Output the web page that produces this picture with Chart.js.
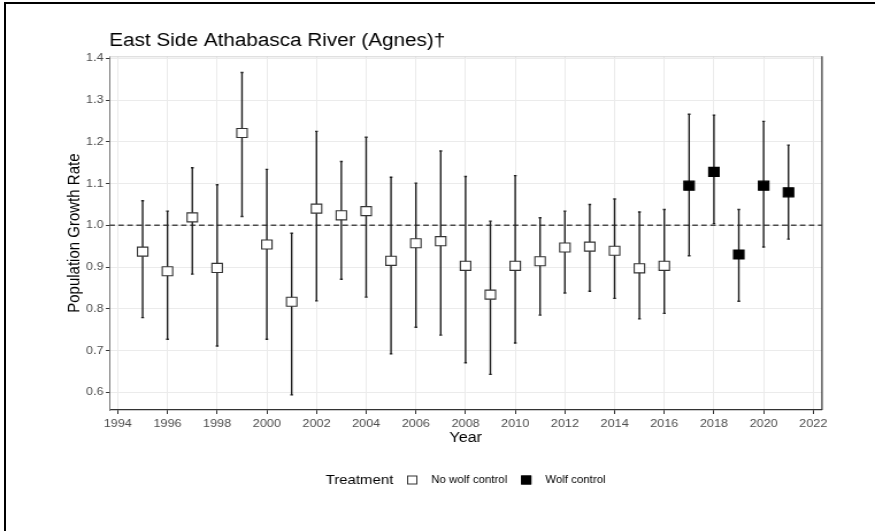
<!DOCTYPE html>
<html>
<head>
<meta charset="utf-8">
<script src="https://cdn.jsdelivr.net/npm/chart.js@4"></script>
<style>
  html, body { margin: 0; padding: 0; background: #fff; overflow: hidden; }
  #frame { position: absolute; left: 4px; top: 2px; width: 900px; height: 560px;
           border-top: 2px solid #000; border-left: 2px solid #000; }
  /* the plot is drawn a little narrow and widened to the page */
  #wrap { position: absolute; left: 0; top: 0; width: 761px; height: 531px;
          transform: scaleX(1.1498); transform-origin: 0 0; }
</style>
</head>
<body>
<div id="frame"></div>
<div id="wrap"><canvas id="growth" width="761" height="531"></canvas></div>
<script>
// lambda estimates with confidence limits, by year
const noWolfYears = [1995, 1996, 1997, 1998, 1999, 2000, 2001, 2002, 2003, 2004, 2005,
                     2006, 2007, 2008, 2009, 2010, 2011, 2012, 2013, 2014, 2015, 2016];
const noWolfRate  = [0.937, 0.890, 1.019, 0.898, 1.221, 0.954, 0.817, 1.040, 1.024, 1.034, 0.915,
                     0.957, 0.962, 0.903, 0.834, 0.903, 0.914, 0.947, 0.949, 0.939, 0.897, 0.903];
const noWolfLower = [0.779, 0.727, 0.883, 0.711, 1.021, 0.727, 0.594, 0.819, 0.871, 0.828, 0.692,
                     0.756, 0.737, 0.671, 0.643, 0.718, 0.785, 0.838, 0.842, 0.825, 0.776, 0.789];
const noWolfUpper = [1.059, 1.034, 1.138, 1.097, 1.366, 1.134, 0.981, 1.225, 1.153, 1.211, 1.115,
                     1.101, 1.178, 1.117, 1.010, 1.119, 1.018, 1.034, 1.050, 1.063, 1.032, 1.038];

const wolfYears = [2017, 2018, 2019, 2020, 2021];
const wolfRate  = [1.095, 1.128, 0.930, 1.095, 1.079];
const wolfLower = [0.927, 1.004, 0.818, 0.948, 0.967];
const wolfUpper = [1.266, 1.264, 1.038, 1.249, 1.192];

const treatmentLabels = ['No wolf control', 'Wolf control'];
const stableRate = 1.0;

const FONT = '"Liberation Sans", Arial, Helvetica, sans-serif';

function toPoints(years, rate, lower, upper) {
  return years.map((yr, i) => ({ x: yr, y: rate[i], lo: lower[i], hi: upper[i] }));
}

// dashed line at lambda = 1, then the interval bars under the squares
const intervals = {
  id: 'intervals',
  beforeDatasetsDraw(chart) {
    const { ctx, chartArea, scales: { x, y } } = chart;
    ctx.save();

    const yRef = y.getPixelForValue(stableRate);
    ctx.strokeStyle = '#4a4a4a';
    ctx.lineWidth = 1.4;
    ctx.setLineDash([4.8, 3]);
    ctx.beginPath();
    ctx.moveTo(chartArea.left, yRef);
    ctx.lineTo(chartArea.right, yRef);
    ctx.stroke();
    ctx.setLineDash([]);

    ctx.strokeStyle = '#1e1e1e';
    ctx.lineWidth = 1.4;
    chart.data.datasets.forEach(ds => {
      ds.data.forEach(p => {
        const px = x.getPixelForValue(p.x);
        const top = y.getPixelForValue(p.hi);
        const bot = y.getPixelForValue(p.lo);
        ctx.beginPath();
        ctx.moveTo(px, top);
        ctx.lineTo(px, bot);
        ctx.moveTo(px - 1.2, top);
        ctx.lineTo(px + 1.2, top);
        ctx.moveTo(px - 1.2, bot);
        ctx.lineTo(px + 1.2, bot);
        ctx.stroke();
      });
    });

    // panel edges on top and right
    ctx.lineWidth = 1;
    ctx.strokeStyle = '#d4d4d4';
    ctx.beginPath();
    ctx.moveTo(chartArea.left, chartArea.top + 0.5);
    ctx.lineTo(chartArea.right, chartArea.top + 0.5);
    ctx.stroke();
    ctx.strokeStyle = '#333';
    ctx.lineWidth = 1.2;
    ctx.beginPath();
    ctx.moveTo(chartArea.right, chartArea.top);
    ctx.lineTo(chartArea.right, chartArea.bottom);
    ctx.stroke();
    ctx.restore();
  }
};

// single-row legend with its title on the left
const treatmentLegend = {
  id: 'treatmentLegend',
  afterDraw(chart) {
    const { ctx, chartArea } = chart;
    const yMid = 480;
    const box = 9, gap = 12;
    ctx.save();
    ctx.textBaseline = 'middle';
    ctx.textAlign = 'left';
    ctx.font = '13px ' + FONT;
    const titleW = ctx.measureText('Treatment').width;
    ctx.font = '10px ' + FONT;
    const items = chart.data.datasets.map(ds => ({
      label: ds.label, fill: ds.backgroundColor, stroke: ds.borderColor,
      w: ctx.measureText(ds.label).width
    }));
    let total = titleW;
    items.forEach(it => { total += gap + box + gap + it.w; });
    let cx = (chartArea.left + chartArea.right) / 2 - total / 2;

    ctx.fillStyle = '#000';
    ctx.font = '13px ' + FONT;
    ctx.fillText('Treatment', cx, yMid);
    cx += titleW + gap;
    ctx.font = '10px ' + FONT;
    items.forEach(it => {
      ctx.fillStyle = it.fill;
      ctx.fillRect(cx, yMid - box / 2, box, box);
      ctx.strokeStyle = it.stroke;
      ctx.lineWidth = 1;
      ctx.strokeRect(cx + 0.5, yMid - box / 2 + 0.5, box - 1, box - 1);
      cx += box + gap;
      ctx.fillStyle = '#000';
      ctx.fillText(it.label, cx, yMid);
      cx += it.w + gap;
    });
    ctx.restore();
  }
};

const ctx = document.getElementById('growth').getContext('2d');
new Chart(ctx, {
  type: 'scatter',
  data: {
    datasets: [
      {
        label: treatmentLabels[0],
        data: toPoints(noWolfYears, noWolfRate, noWolfLower, noWolfUpper),
        backgroundColor: '#ffffff',
        borderColor: '#333333',
        borderWidth: 1.1,
        pointStyle: 'rect',
        pointRadius: 6.4,
        pointHoverRadius: 6.4
      },
      {
        label: treatmentLabels[1],
        data: toPoints(wolfYears, wolfRate, wolfLower, wolfUpper),
        backgroundColor: '#000000',
        borderColor: '#000000',
        borderWidth: 1.1,
        pointStyle: 'rect',
        pointRadius: 6.4,
        pointHoverRadius: 6.4
      }
    ]
  },
  options: {
    responsive: false,
    animation: false,
    devicePixelRatio: 1,
    layout: { padding: { left: 0, right: 46.1, top: 0, bottom: 84.6 } },
    plugins: {
      legend: { display: false },
      tooltip: { enabled: false },
      title: {
        display: true,
        text: 'East Side Athabasca River (Agnes)†',
        align: 'start',
        fullSize: false,
        color: '#000',
        font: { family: FONT, size: 18, weight: 'normal' },
        padding: { top: 30.2, bottom: 4.5 }
      }
    },
    scales: {
      x: {
        type: 'linear',
        min: 1993.66,
        max: 2022.35,
        afterFit(scale) { scale.height = 36.4; },
        ticks: {
          stepSize: 2,
          includeBounds: false,
          padding: 3,
          color: '#4d4d4d',
          font: { family: FONT, size: 11 },
          callback: v => String(Math.round(v))
        },
        grid: { color: '#ebebeb', lineWidth: 1, tickColor: '#333', tickLength: 4 },
        border: { color: '#333', width: 1.2 },
        title: {
          display: true,
          text: 'Year',
          color: '#000',
          font: { family: FONT, size: 14 },
          padding: { top: 0, bottom: 0 }
        }
      },
      y: {
        min: 0.5577,
        max: 1.4048,
        afterFit(scale) { scale.width = 95.1; },
        ticks: {
          stepSize: 0.1,
          includeBounds: false,
          padding: 2,
          color: '#4d4d4d',
          font: { family: FONT, size: 11 },
          callback: v => v.toFixed(1)
        },
        grid: { color: '#ebebeb', lineWidth: 1, tickColor: '#333', tickLength: 3 },
        border: { color: '#777', width: 1 },
        title: {
          display: true,
          text: 'Population Growth Rate',
          color: '#000',
          font: { family: FONT, size: 15 },
          padding: { top: 56.2, bottom: 0 }
        }
      }
    }
  },
  plugins: [intervals, treatmentLegend]
});
</script>
</body>
</html>
